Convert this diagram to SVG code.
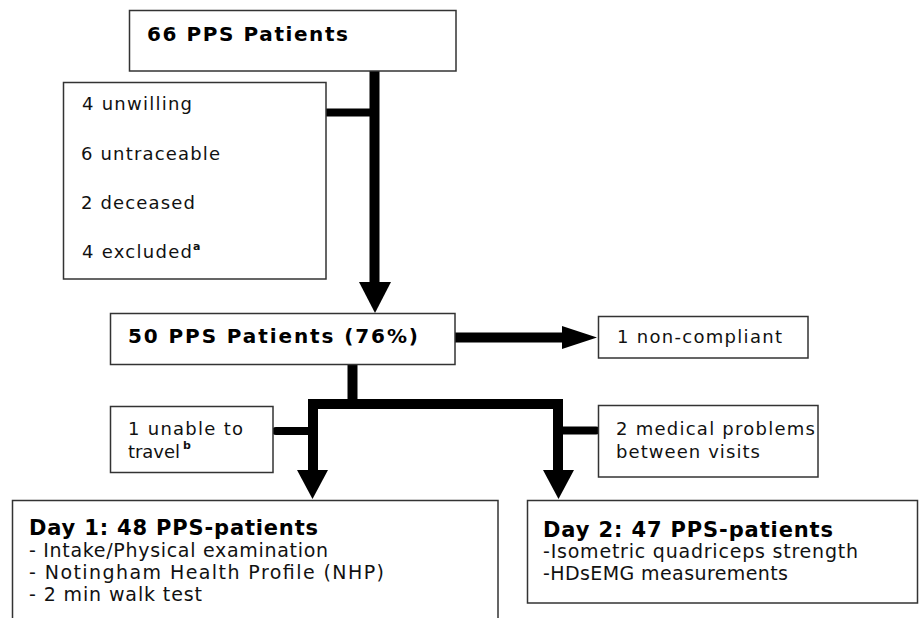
<svg xmlns="http://www.w3.org/2000/svg" width="920" height="618" viewBox="0 0 920 618">
<style>
.box{fill:#fff;stroke:#333;stroke-width:1.5}
.t{font-family:"DejaVu Sans","Liberation Sans",sans-serif;font-size:18px;fill:#111}
.b{font-family:"DejaVu Sans","Liberation Sans",sans-serif;font-size:20px;font-weight:bold;fill:#000}
.d{font-family:"DejaVu Sans","Liberation Sans",sans-serif;font-size:19px;fill:#111}
.sup{font-family:"DejaVu Sans","Liberation Sans",sans-serif;font-size:11px;font-weight:bold;fill:#111}
.ln{fill:none;stroke:#000;stroke-width:10}
.sl{fill:none;stroke:#000;stroke-width:8;stroke-linecap:round}
.hd{fill:#000}
</style>
<rect width="920" height="618" fill="#fff"/>
<g id="connectors">
  <path class="ln" d="M374.5 71 V284"/>
  <polygon class="hd" points="359,282 391,282 375,313"/>
  <path class="sl" d="M327 112.5 H370"/>
  <path class="ln" d="M455 337.5 H565"/>
  <polygon class="hd" points="562,326 562,349 597,337.5"/>
  <path class="ln" d="M352.5 364 V404"/>
  <path class="ln" d="M313 472 V404 H558 V472"/>
  <polygon class="hd" points="297,470 328,470 312.5,499"/>
  <polygon class="hd" points="543,470 574,470 558.5,499"/>
  <path class="sl" d="M276 431 H313"/>
  <path class="sl" d="M558 430.5 H596"/>
</g>
<g id="n66">
  <rect class="box" x="129.5" y="10.5" width="326.5" height="60.5"/>
  <text class="b" x="147" y="41" textLength="201">66 PPS Patients</text>
</g>
<g id="excluded">
  <rect class="box" x="63.5" y="82.5" width="262.5" height="196.5"/>
  <text class="t" x="82" y="110" textLength="110">4 unwilling</text>
  <text class="t" x="81" y="160" textLength="139">6 untraceable</text>
  <text class="t" x="81" y="209" textLength="114">2 deceased</text>
  <text class="t" x="82" y="258" textLength="110">4 excluded</text>
  <text class="sup" x="193" y="250">a</text>
</g>
<g id="n50">
  <rect class="box" x="110.5" y="313.5" width="344.5" height="51"/>
  <text class="b" x="128" y="343" textLength="290">50 PPS Patients (76%)</text>
</g>
<g id="noncompliant">
  <rect class="box" x="598.5" y="316.5" width="209.5" height="41.5"/>
  <text class="t" x="617" y="343" textLength="165">1 non-compliant</text>
</g>
<g id="unable">
  <rect class="box" x="110.5" y="406.5" width="162.5" height="66"/>
  <text class="t" x="128" y="435" textLength="115">1 unable to</text>
  <text class="t" x="128" y="458" textLength="52">travel</text>
  <text class="sup" x="183" y="449">b</text>
</g>
<g id="medical">
  <rect class="box" x="598.5" y="405.5" width="219.5" height="71.5"/>
  <text class="t" x="616" y="435" textLength="199">2 medical problems</text>
  <text class="t" x="616" y="458" textLength="144">between visits</text>
</g>
<g id="day1">
  <rect class="box" x="12.5" y="500.5" width="485.5" height="130"/>
  <text class="b" x="29" y="535" textLength="289" style="font-size:21px">Day 1: 48 PPS-patients</text>
  <text class="d" x="29" y="557" textLength="299">- Intake/Physical examination</text>
  <text class="d" x="29" y="579" textLength="355">- Notingham Health Profile (NHP)</text>
  <text class="d" x="29" y="601" textLength="173">- 2 min walk test</text>
</g>
<g id="day2">
  <rect class="box" x="527.5" y="500.5" width="390" height="102.5"/>
  <text class="b" x="543" y="537" textLength="290" style="font-size:21px">Day 2: 47 PPS-patients</text>
  <text class="d" x="543" y="558" textLength="315">-Isometric quadriceps strength</text>
  <text class="d" x="543" y="580" textLength="245">-HDsEMG measurements</text>
</g>
</svg>
